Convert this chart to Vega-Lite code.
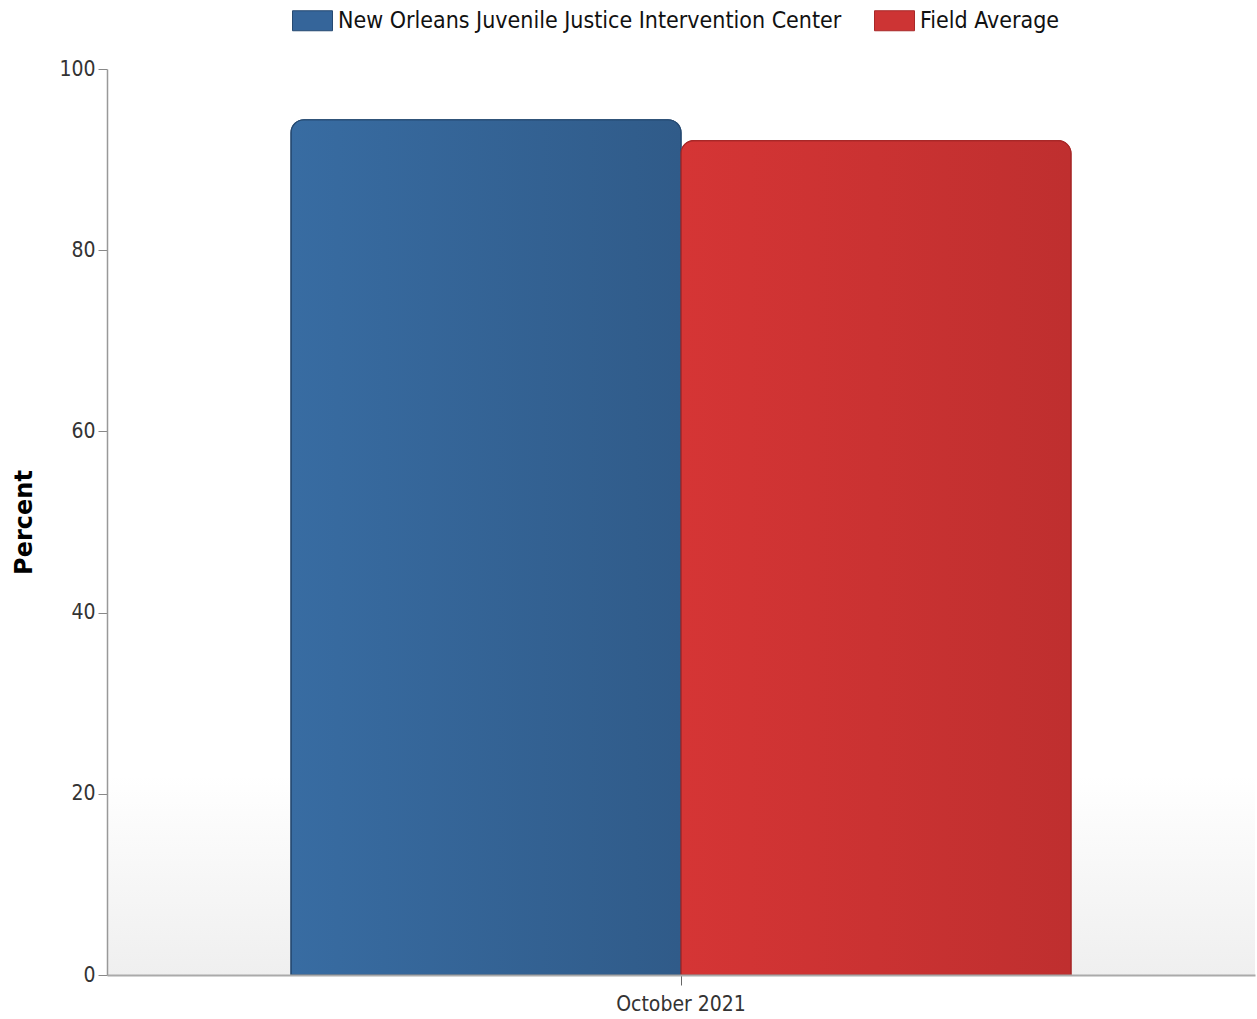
{
  "$schema": "https://vega.github.io/schema/vega-lite/v6.json",
  "autosize": "none",
  "width": 1148,
  "height": 906,
  "padding": {"left": 107, "top": 69, "right": 2, "bottom": 44},
  "background": "white",
  "config": {
    "view": {"stroke": null},
    "font": "DejaVu Sans Condensed"
  },
  "data": {
    "values": [
      {"month": "October 2021", "series": "New Orleans Juvenile Justice Intervention Center", "percent": 94.4},
      {"month": "October 2021", "series": "Field Average", "percent": 92.1}
    ]
  },
  "layer": [
    {
      "mark": {
        "type": "rect",
        "fill": {
          "gradient": "linear", "x1": 0, "y1": 0, "x2": 0, "y2": 1,
          "stops": [
            {"offset": 0, "color": "#ffffff"},
            {"offset": 0.78, "color": "#ffffff"},
            {"offset": 1, "color": "#efefef"}
          ]
        }
      },
      "encoding": {
        "y": {"datum": 100, "type": "quantitative"},
        "y2": {"datum": 0}
      }
    },
    {
      "mark": {"type": "bar", "cornerRadiusTopLeft": 13, "cornerRadiusTopRight": 13, "strokeWidth": 1.2},
      "encoding": {
        "x": {
          "field": "month", "type": "nominal",
          "scale": {"paddingInner": 0, "paddingOuter": 0.236},
          "axis": {
            "title": null, "labelAngle": 0, "labelFontSize": 21, "labelColor": "#333333",
            "labelPadding": 8, "tickSize": 10, "tickColor": "#666666", "domainColor": "#aaaaaa", "domainWidth": 2,
            "labelFont": "DejaVu Sans Condensed", "zindex": 1
          }
        },
        "xOffset": {"field": "series", "type": "nominal", "sort": ["New Orleans Juvenile Justice Intervention Center", "Field Average"], "scale": {"paddingInner": 0}},
        "y": {
          "field": "percent", "type": "quantitative",
          "scale": {"domain": [0, 100], "nice": false},
          "axis": {
            "title": "Percent", "titleFontSize": 24, "titleFontWeight": "bold", "titleColor": "#000000",
            "titleFont": "DejaVu Sans", "titlePadding": 22,
            "values": [0, 20, 40, 60, 80, 100], "grid": false,
            "labelFontSize": 21, "labelColor": "#333333", "labelPadding": 3,
            "tickSize": 9, "tickColor": "#888888", "domainColor": "#999999", "domainWidth": 1.5, "zindex": 1
          }
        },
        "color": {
          "field": "series", "type": "nominal",
          "sort": ["New Orleans Juvenile Justice Intervention Center", "Field Average"],
          "scale": {"domain": ["New Orleans Juvenile Justice Intervention Center", "Field Average"], "range": ["#35659a", "#cd3434"]},
          "legend": {
            "title": null, "orient": "none", "direction": "horizontal",
            "legendX": 185, "legendY": -69,
            "symbolType": "M-1,-0.5L1,-0.5L1,0.5L-1,0.5Z", "symbolSize": 1600,
            "symbolStrokeColor": "#333333", "symbolStrokeWidth": 1,
            "labelFontSize": 23, "labelColor": "#111111", "labelOffset": 5,
            "columnPadding": 30, "labelLimit": 700
          }
        },
        "stroke": {
          "field": "series", "type": "nominal",
          "scale": {"domain": ["New Orleans Juvenile Justice Intervention Center", "Field Average"], "range": ["#264a72", "#a82828"]},
          "legend": null
        }
      }
    },
    {
      "transform": [{"filter": "datum.series === 'New Orleans Juvenile Justice Intervention Center'"}],
      "mark": {
        "type": "bar", "cornerRadiusTopLeft": 13, "cornerRadiusTopRight": 13,
        "stroke": "#264a72", "strokeWidth": 1.2,
        "fill": {
          "gradient": "linear", "x1": 0, "y1": 0, "x2": 1, "y2": 0,
          "stops": [{"offset": 0, "color": "#386ca2"}, {"offset": 1, "color": "#305b89"}]
        }
      },
      "encoding": {
        "x": {"field": "month", "type": "nominal"},
        "xOffset": {"field": "series", "type": "nominal", "sort": ["New Orleans Juvenile Justice Intervention Center", "Field Average"]},
        "y": {"field": "percent", "type": "quantitative"}
      }
    },
    {
      "transform": [{"filter": "datum.series === 'Field Average'"}],
      "mark": {
        "type": "bar", "cornerRadiusTopLeft": 13, "cornerRadiusTopRight": 13,
        "stroke": "#a82828", "strokeWidth": 1.2,
        "fill": {
          "gradient": "linear", "x1": 0, "y1": 0, "x2": 1, "y2": 0,
          "stops": [{"offset": 0, "color": "#d53535"}, {"offset": 1, "color": "#bf2f2f"}]
        }
      },
      "encoding": {
        "x": {"field": "month", "type": "nominal"},
        "xOffset": {"field": "series", "type": "nominal", "sort": ["New Orleans Juvenile Justice Intervention Center", "Field Average"]},
        "y": {"field": "percent", "type": "quantitative"}
      }
    }
  ]
}
